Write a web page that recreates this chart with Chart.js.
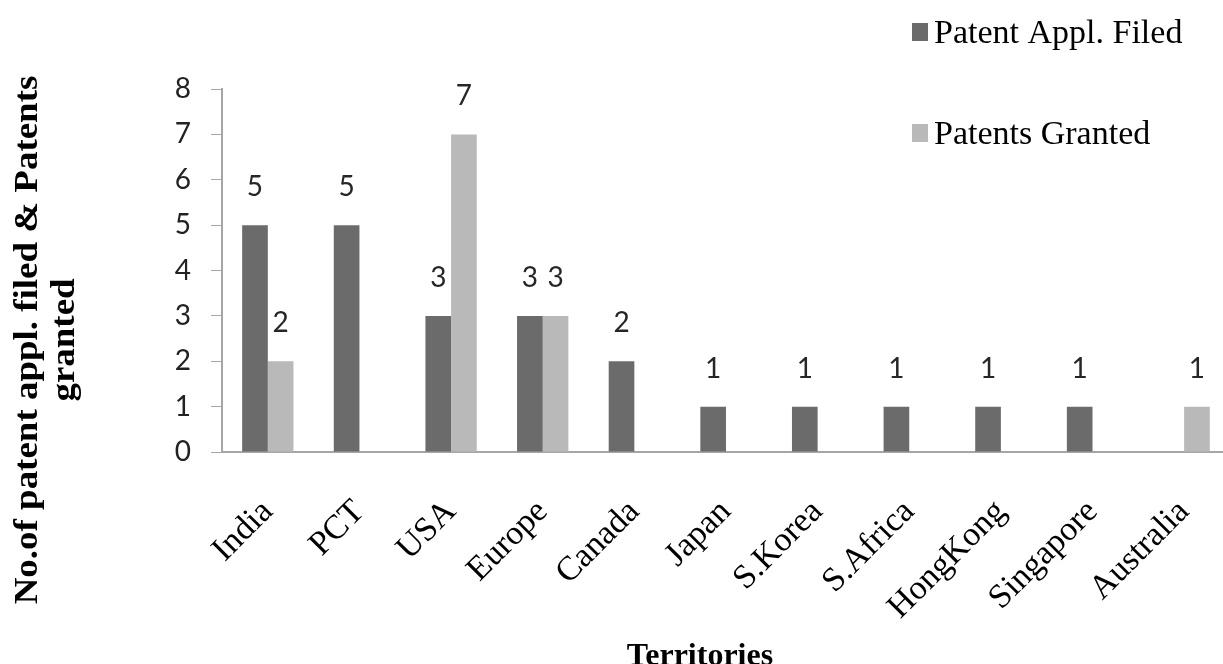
<!DOCTYPE html>
<html>
<head>
<meta charset="utf-8">
<title>Patent applications filed and patents granted by territory</title>
<script src="https://cdn.jsdelivr.net/npm/chart.js@4/dist/chart.umd.min.js"></script>
<style>
  html, body { margin: 0; padding: 0; background: #ffffff; overflow: hidden; }
  #wrap { width: 1223px; height: 664px; overflow: hidden; position: relative; }
  canvas { display: block; }
</style>
</head>
<body>
<div id="wrap"><canvas id="chart" width="1245" height="664"></canvas></div>
<script>
// Territories on the category axis
const territories = ['India', 'PCT', 'USA', 'Europe', 'Canada', 'Japan', 'S.Korea', 'S.Africa', 'HongKong', 'Singapore', 'Australia'];
// Number of patent applications filed per territory
const applFiled = [5, 5, 3, 3, 2, 1, 1, 1, 1, 1, 0];
// Number of patents granted per territory
const patentsGranted = [2, 0, 7, 3, 0, 0, 0, 0, 0, 0, 1];
// Value axis ticks
const yTicks = [0, 1, 2, 3, 4, 5, 6, 7, 8];

const seriesNames = ['Patent Appl. Filed', 'Patents Granted'];
const seriesColors = ['#6b6b6b', '#b9b9b9'];
const yTitleLines = ['No.of patent appl. filed & Patents', 'granted'];
const xTitle = 'Territories';

const SERIF = '"Liberation Serif", "Times New Roman", serif';
const SANS = 'Lato, "Open Sans", sans-serif';

// Value labels above each non-zero bar
const valueLabels = {
  id: 'valueLabels',
  afterDatasetsDraw(chart) {
    const ctx = chart.ctx;
    ctx.save();
    ctx.font = '28px ' + SANS;
    ctx.fillStyle = '#262626';
    ctx.textAlign = 'center';
    ctx.textBaseline = 'middle';
    chart.data.datasets.forEach((ds, i) => {
      chart.getDatasetMeta(i).data.forEach((bar, j) => {
        const v = ds.data[j];
        if (!v) return;
        ctx.fillText(String(v), bar.x, bar.y - 38);
      });
    });
    ctx.restore();
  }
};

// Legend in the upper right, one entry per series with wide spacing
const sideLegend = {
  id: 'sideLegend',
  afterDraw(chart) {
    const ctx = chart.ctx;
    ctx.save();
    ctx.font = '34px ' + SERIF;
    ctx.textBaseline = 'alphabetic';
    ctx.textAlign = 'left';
    chart.data.datasets.forEach((ds, i) => {
      const top = 23 + i * 101;
      ctx.fillStyle = ds.backgroundColor;
      ctx.fillRect(912, top, 16, 18);
      ctx.fillStyle = '#000000';
      ctx.fillText(ds.label, 934, top + 20);
    });
    ctx.restore();
  }
};

// Axis titles
const axisTitles = {
  id: 'axisTitles',
  afterDraw(chart) {
    const ctx = chart.ctx;
    ctx.save();
    ctx.fillStyle = '#000000';
    ctx.font = 'bold 33px ' + SERIF;
    ctx.textAlign = 'center';
    ctx.textBaseline = 'alphabetic';
    const baselines = [37, 74];
    yTitleLines.forEach((line, k) => {
      ctx.save();
      ctx.translate(baselines[k], 340);
      ctx.rotate(-Math.PI / 2);
      ctx.scale(1.12, 1);
      ctx.fillText(line, 0, 0);
      ctx.restore();
    });
    ctx.font = 'bold 32px ' + SERIF;
    ctx.fillText(xTitle, 700, 665);
    ctx.restore();
  }
};

new Chart(document.getElementById('chart'), {
  type: 'bar',
  data: {
    labels: territories,
    datasets: [
      { label: seriesNames[0], data: applFiled, backgroundColor: seriesColors[0], borderWidth: 0 },
      { label: seriesNames[1], data: patentsGranted, backgroundColor: seriesColors[1], borderWidth: 0 }
    ]
  },
  options: {
    responsive: false,
    animation: false,
    devicePixelRatio: 1,
    layout: { padding: { left: 0, top: 89, right: 0, bottom: 0 } },
    datasets: { bar: { categoryPercentage: 0.56, barPercentage: 1.0 } },
    plugins: {
      legend: { display: false },
      tooltip: { enabled: false },
      title: { display: false }
    },
    scales: {
      x: {
        offset: true,
        grid: { display: false },
        border: { display: true, color: '#a6a6a6', width: 2 },
        ticks: {
          autoSkip: false,
          minRotation: 45,
          maxRotation: 45,
          padding: 32,
          color: '#000000',
          font: { family: SERIF, size: 34 }
        },
        afterFit(scale) { scale.height = 212; }
      },
      y: {
        min: 0,
        max: 8,
        afterBuildTicks(scale) { scale.ticks = yTicks.map(v => ({ value: v })); },
        grid: {
          display: true,
          drawOnChartArea: false,
          drawTicks: true,
          tickLength: 11,
          color: '#a6a6a6',
          lineWidth: 1
        },
        border: { display: true, color: '#a6a6a6', width: 2 },
        ticks: {
          padding: 20,
          color: '#222222',
          font: { family: SANS, size: 28 }
        },
        afterFit(scale) { scale.width = 222; }
      }
    }
  },
  plugins: [valueLabels, sideLegend, axisTitles]
});
</script>
</body>
</html>
